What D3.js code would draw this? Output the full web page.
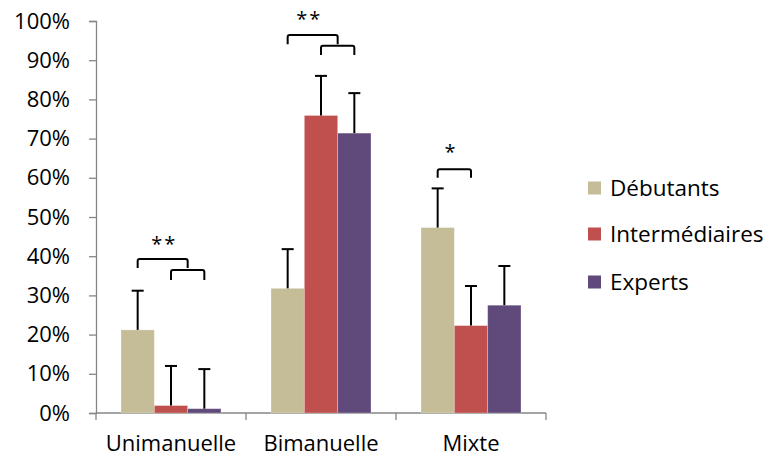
<!DOCTYPE html>
<html><head><meta charset="utf-8">
<script src="https://cdn.jsdelivr.net/npm/d3@7"></script>
<style>
html,body{margin:0;padding:0;background:#fff;}
text{font-family:"Open Sans",sans-serif;fill:#000;}
</style></head>
<body>
<svg id="c" width="770" height="459"></svg>
<script>
const categories = ["Unimanuelle", "Bimanuelle", "Mixte"];
const seriesNames = ["Débutants", "Intermédiaires", "Experts"];
const seriesColors = ["#C4BD97", "#C0504D", "#604A7B"];
const debutants = [21.2, 31.8, 47.3];
const intermediaires = [1.9, 75.9, 22.3];
const experts = [1.1, 71.4, 27.5];
const debutantsErr = [10, 10, 10];
const intermediairesErr = [10.1, 10.1, 10.1];
const expertsErr = [10.1, 10.2, 10];
const yTicks = [0, 10, 20, 30, 40, 50, 60, 70, 80, 90, 100];
// significance brackets: category, from series, to series (or group mid), top level %, leg level %
const brackets = [
  {cat: 0, a: [0], b: [1, 2], top: 39.3, leg: 37.0},
  {cat: 0, a: [1], b: [2], top: 36.5, leg: 33.9},
  {cat: 1, a: [0], b: [1, 2], top: 96.4, leg: 94.1},
  {cat: 1, a: [1], b: [2], top: 93.7, leg: 91.3},
  {cat: 2, a: [0], b: [1], top: 62.2, leg: 60.0}
];
const stars = [
  {cat: 0, label: "**", xPos: 0.8, level: 44.1},
  {cat: 1, label: "**", xPos: 0.65, level: 101.5},
  {cat: 2, label: "*", xPos: 0.4, level: 67.6}
];

const values = [debutants, intermediaires, experts];
const errors = [debutantsErr, intermediairesErr, expertsErr];

const svg = d3.select("#c");
const mLeft = 96, mRight = 546, mTop = 21, mBottom = 413;

const x = d3.scaleBand().domain(categories).range([mLeft, mRight]).paddingInner(0).paddingOuter(0);
// gap width 150% of bar width: 3 bars + 1.5 gap = 4.5 units
const xs = d3.scaleBand().domain(seriesNames).range([0, x.bandwidth()]).paddingInner(0).paddingOuter(0.75);
const y = d3.scaleLinear().domain([0, 100]).range([mBottom, mTop]);

const axisColor = "#868686";

// y axis
const yAxis = d3.axisLeft(y).tickValues(yTicks).tickFormat(d => d + "%").tickSize(7).tickPadding(19);
const gy = svg.append("g").attr("transform", `translate(${mLeft},0)`).call(yAxis);
gy.select(".domain").attr("stroke", axisColor).attr("stroke-width", 1.3);
gy.selectAll(".tick line").attr("stroke", axisColor).attr("stroke-width", 1.3);
gy.selectAll(".tick text").attr("font-size", 22).attr("font-family", "Open Sans").attr("fill", "#000");

// x axis
const gx = svg.append("g").attr("transform", `translate(0,${mBottom})`);
gx.append("line").attr("x1", mLeft).attr("x2", mRight).attr("y1", 0).attr("y2", 0)
  .attr("stroke", axisColor).attr("stroke-width", 1.3);
const xTickPos = categories.map(c => x(c)).concat([x(categories[categories.length - 1]) + x.bandwidth()]);
gx.selectAll("line.xt").data(xTickPos).enter().append("line").attr("class", "xt")
  .attr("x1", d => d).attr("x2", d => d).attr("y1", 0).attr("y2", 7)
  .attr("stroke", axisColor).attr("stroke-width", 1.3);
gx.selectAll("text").data(categories).enter().append("text")
  .attr("x", d => x(d) + x.bandwidth() / 2).attr("y", 38)
  .attr("text-anchor", "middle").attr("font-size", 22).text(d => d);

// bars
const barsG = svg.append("g");
seriesNames.forEach((s, si) => {
  barsG.selectAll(null).data(categories).enter().append("rect")
    .attr("x", (c) => x(c) + xs(s))
    .attr("width", xs.bandwidth())
    .attr("y", (c, ci) => y(values[si][ci]))
    .attr("height", (c, ci) => y(0) - y(values[si][ci]))
    .attr("fill", seriesColors[si])
    .attr("stroke", "#fff").attr("stroke-opacity", 0.35).attr("stroke-width", 0.8);
});

// error bars
const errG = svg.append("g").attr("stroke", "#000").attr("stroke-width", 2);
seriesNames.forEach((s, si) => {
  categories.forEach((c, ci) => {
    const cx = x(c) + xs(s) + xs.bandwidth() / 2;
    const v = values[si][ci], e = errors[si][ci];
    errG.append("line").attr("x1", cx).attr("x2", cx).attr("y1", y(v)).attr("y2", y(v + e));
    errG.append("line").attr("x1", cx - 6).attr("x2", cx + 6).attr("y1", y(v + e)).attr("y2", y(v + e));
  });
});

// brackets
function centerOf(cat, sis) {
  const cs = sis.map(si => x(categories[cat]) + xs(seriesNames[si]) + xs.bandwidth() / 2);
  return d3.mean(cs);
}
const brG = svg.append("g").attr("fill", "none").attr("stroke", "#000").attr("stroke-width", 2);
brackets.forEach(b => {
  const x1 = centerOf(b.cat, b.a);
  const x2 = centerOf(b.cat, b.b);
  const yt = y(b.top), yl = y(b.leg);
  const r = 2;
  const p = d3.path();
  p.moveTo(x1, yl);
  p.lineTo(x1, yt + r);
  p.quadraticCurveTo(x1, yt, x1 + r, yt);
  p.lineTo(x2 - r, yt);
  p.quadraticCurveTo(x2, yt, x2, yt + r);
  p.lineTo(x2, yl);
  brG.append("path").attr("d", p.toString());
});

// stars
stars.forEach(s => {
  const c = categories[s.cat];
  svg.append("text")
    .attr("x", x(c) + xs(seriesNames[0]) + xs.bandwidth() / 2 + s.xPos * xs.step())
    .attr("y", y(s.level) + 11)
    .attr("text-anchor", "middle")
    .attr("font-size", 20)
    .attr("letter-spacing", 2)
    .text(s.label);
});

// legend
const lg = svg.append("g").attr("transform", "translate(588,0)");
const legendY = [188, 234, 282];
seriesNames.forEach((s, i) => {
  lg.append("rect").attr("x", 0).attr("y", legendY[i] - 6.5).attr("width", 13).attr("height", 13)
    .attr("fill", seriesColors[i]);
  lg.append("text").attr("x", 22).attr("y", legendY[i]).attr("dy", "0.36em")
    .attr("font-size", 22.5).text(s);
});
</script>
</body></html>
